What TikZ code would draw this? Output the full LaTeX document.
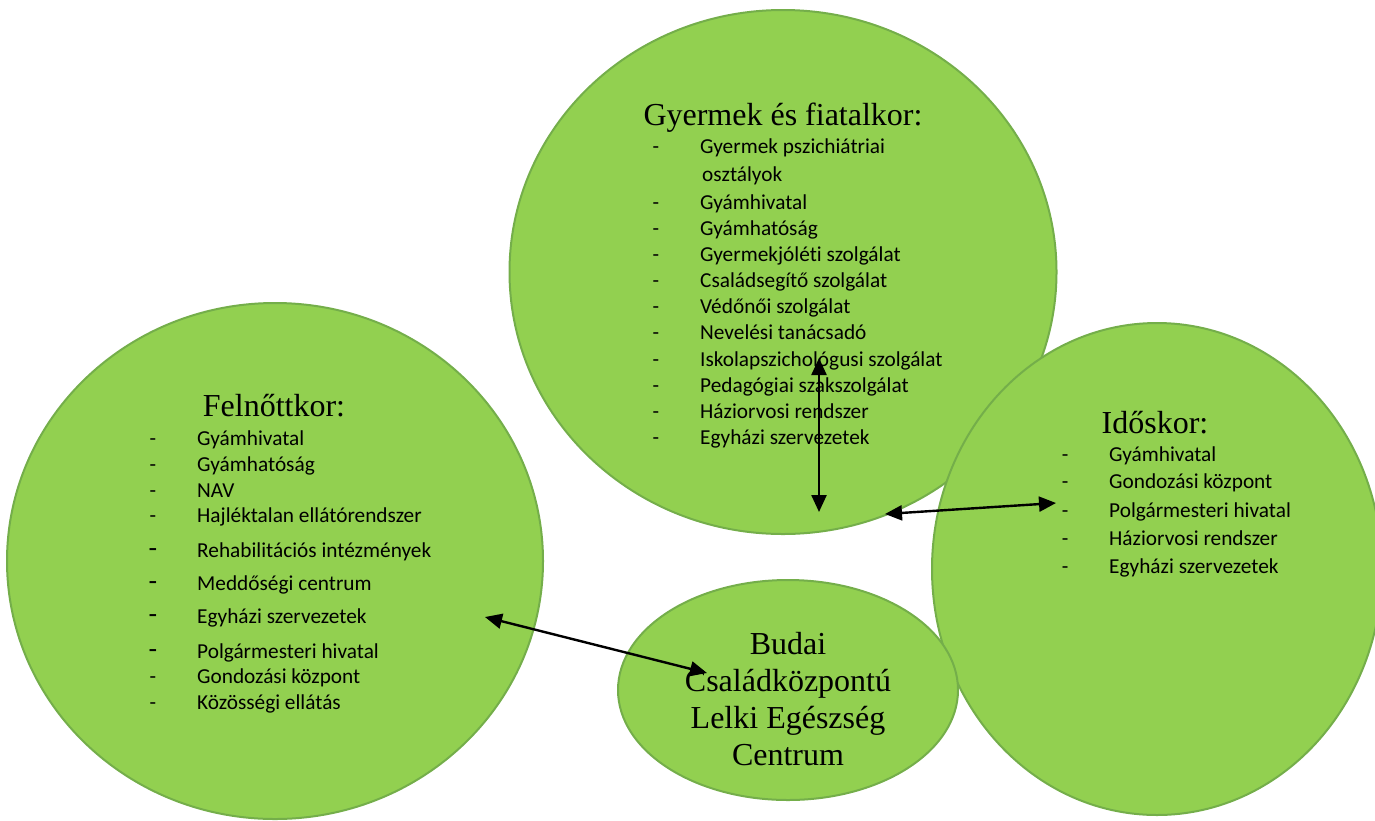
\documentclass[tikz,border=0pt]{standalone}
\usepackage{fontspec}
\setmainfont{Liberation Serif}
\newfontfamily\listfont[Ligatures=NoCommon]{Carlito}
\usetikzlibrary{shapes.geometric,arrows.meta}
\definecolor{circfill}{HTML}{92D050}
\definecolor{circborder}{HTML}{74AE4A}
\begin{document}
\begin{tikzpicture}[x=1pt,y=-1pt]
        \tikzstyle{circ}=[ellipse,draw=circborder,fill=circfill,line width=2pt,inner sep=0pt]
        \tikzstyle{title}=[font=\fontsize{32}{37}\selectfont,anchor=base,inner sep=0pt]
        \tikzstyle{item}=[font=\listfont\fontsize{21.3}{26}\selectfont,anchor=base west,inner sep=0pt]
        \tikzstyle{itemdash}=[font=\listfont\fontsize{21.3}{26}\selectfont,anchor=base,inner sep=0pt]
        \tikzstyle{edge}=[draw,{Triangle[length=17pt,width=15pt]}-{Triangle[length=17pt,width=15pt]},line width=2.4pt]
        \useasboundingbox (0,0) rectangle (1375,820);
        % circles
        \node [circ,minimum width=547pt,minimum height=524pt] (young) at (783,272) {};
        \node [circ,minimum width=536pt,minimum height=516pt] (adult) at (275,561) {};
        \node [circ,minimum width=450pt,minimum height=492pt] (old) at (1157,569) {};
        \node [circ,minimum width=340pt,minimum height=220pt] (centre) at (788,690) {};
        % titles
        \node [title] (youngt) at (783,125) {Gyermek és fiatalkor:};
        \node [title] (adultt) at (274,416) {Felnőttkor:};
        \node [title] (oldt) at (1155,433) {Időskor:};
        \node [title,anchor=center,align=center] (centret) at (788,699)
          {Budai\\Családközpontú\\Lelki Egészség\\Centrum};
        % lists
        \node [item] (y0) at (702,181) {osztályok};
        \foreach \y/\t [count=\i] in {153/Gyermek pszichiátriai,209/Gyámhivatal,235/Gyámhatóság,
            261/Gyermekjóléti szolgálat,287/Családsegítő szolgálat,313/Védőnői szolgálat,
            339/Nevelési tanácsadó,366/Iskolapszichológusi szolgálat,392/Pedagógiai szakszolgálat,
            418/Háziorvosi rendszer,444/Egyházi szervezetek}
          {
          \node [itemdash] (yd\i) at (656,\y) {-};
          \node [item] (y\i) at (700,\y) {\t};
          }
        \foreach \y/\t [count=\i] in {445/Gyámhivatal,471/Gyámhatóság,497/NAV,
            522/Hajléktalan ellátórendszer,557/Rehabilitációs intézmények,590/Meddőségi centrum,
            623/Egyházi szervezetek,658/Polgármesteri hivatal,683/Gondozási központ,
            709/Közösségi ellátás}
          \node [item] (a\i) at (197,\y) {\t};
        \foreach \y [count=\i] in {445,471,497,522,683,709}
          \node [itemdash] (ad\i) at (153,\y) {-};
        \foreach \y [count=\i] in {557,590,623,658}
          \node [itemdash,font=\listfont\fontsize{28}{30}\selectfont] (ab\i) at (153,\y) {-};
        \foreach \y/\t [count=\i] in {461/Gyámhivatal,488/Gondozási központ,517/Polgármesteri hivatal,
            545/Háziorvosi rendszer,573/Egyházi szervezetek}
          {
          \node [itemdash] (od\i) at (1065,\y) {-};
          \node [item] (o\i) at (1109,\y) {\t};
          }
        % arrows
        \coordinate (up) at (819,358);
        \coordinate (down) at (819,512);
        \coordinate (midl) at (885,514);
        \coordinate (midr) at (1056,503);
        \coordinate (left) at (485,617);
        \coordinate (right) at (707,673);
        \draw[edge] (up) -- (down);
        \draw[edge] (midl) -- (midr);
        \draw[edge] (left) -- (right);
\end{tikzpicture}
\end{document}
